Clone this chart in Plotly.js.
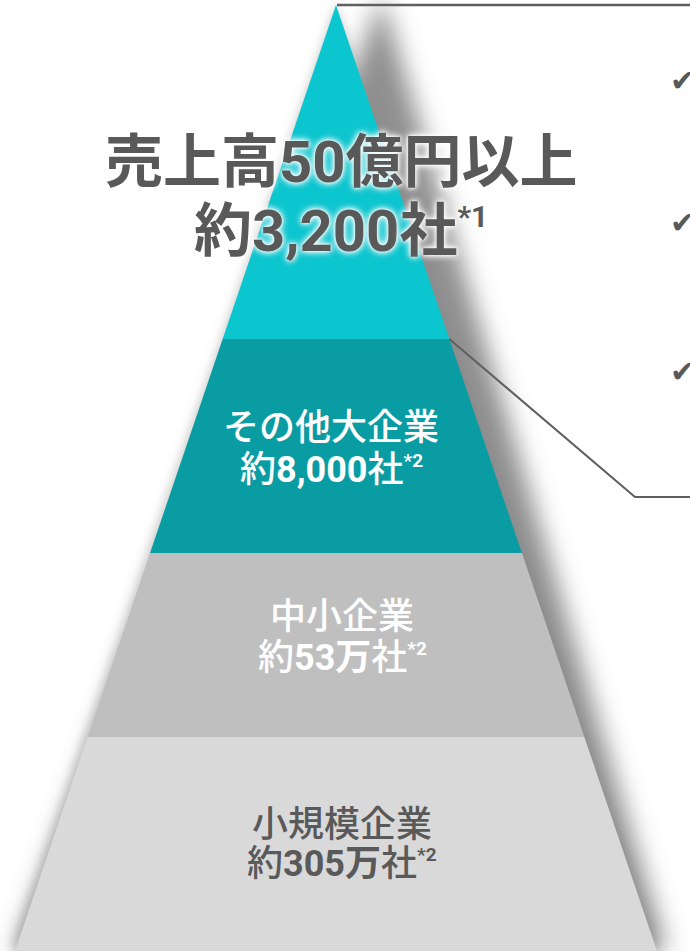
<!DOCTYPE html>
<html>
<head>
<meta charset="utf-8">
<script src="https://cdn.plot.ly/plotly-3.0.1.min.js"></script>
<style>
  html, body { margin: 0; padding: 0; background: #ffffff; }
  #chart { width: 690px; height: 951px; }
</style>
</head>
<body>
<div id="chart"></div>
<script>
// ---- data ----
const layerNames  = ["売上高50億円以上", "その他大企業", "中小企業", "小規模企業"];
const layerPrefix = ["約", "約", "約", "約"];
const layerCounts = ["3,200", "8,000", "53万", "305万"];
const layerSuffix = ["社", "社", "社", "社"];
const layerNotes  = ["*1", "*2", "*2", "*2"];

// ---- styles / geometry (layout, not data) ----
const layerColors = ["#0BC5CF", "#0A9CA3", "#BFBFBF", "#D9D9D9"];
const textColors  = ["#595959", "#FFFFFF", "#FFFFFF", "#595959"];
const apex = {x: 336, y: 5};
const baseY = 951, baseHalf = 321;
const bounds = [5, 339, 553, 737, 951];
const line1Y = [162, 428, 617, 825];
const line2Y = [231, 470, 658, 864];
const labelX = [341, 331, 342, 342];
const fontSizes = [58, 36, 36, 36];
const supSizes = [30, 19, 19, 19];
const checkY = [80, 222, 371];
const FAM = "Roboto, 'Noto Sans CJK JP', 'Noto Sans', sans-serif";

function half(y) { return baseHalf * (y - apex.y) / (baseY - apex.y); }

const traces = [];
// shadow (skewed to the right)
traces.push({
  x: [382, 667, 15, 382], y: [-4, 951, 951, -4],
  mode: "none", fill: "toself", fillcolor: "rgba(115,115,115,0.8)",
  hoverinfo: "skip", showlegend: false
});
// faint halo
traces.push({
  x: [apex.x, apex.x + baseHalf + 4, apex.x - baseHalf - 5, apex.x],
  y: [apex.y - 3, baseY, baseY, apex.y - 3],
  mode: "none", fill: "toself", fillcolor: "rgba(130,130,130,0.35)",
  hoverinfo: "skip", showlegend: false
});
// pyramid layers
for (let i = 0; i < layerNames.length; i++) {
  const y0 = bounds[i], y1 = bounds[i + 1];
  const h0 = half(y0), h1 = half(y1);
  traces.push({
    x: [apex.x - h0, apex.x + h0, apex.x + h1, apex.x - h1, apex.x - h0],
    y: [y0, y0, y1, y1, y0],
    mode: "lines", line: {width: 0, color: layerColors[i]},
    fill: "toself", fillcolor: layerColors[i],
    hoverinfo: "skip", showlegend: false
  });
}
// connector lines
traces.push({
  x: [apex.x + 1, 690], y: [apex.y, apex.y],
  mode: "lines", line: {color: "#5F5F5F", width: 2.5}, hoverinfo: "skip", showlegend: false
});
traces.push({
  x: [apex.x + half(bounds[1]), 635, 690], y: [bounds[1], 497, 497],
  mode: "lines", line: {color: "#5F5F5F", width: 2}, hoverinfo: "skip", showlegend: false
});

const annotations = [];
for (let i = 0; i < layerNames.length; i++) {
  const top = i === 0;
  const fnt = {
    family: FAM, size: fontSizes[i], color: textColors[i],
    weight: top ? 700 : 500
  };
  if (top) fnt.shadow = "0 0 3px #ffffff, 0 0 6px #ffffff, 0 0 8px rgba(255,255,255,0.9)";
  annotations.push({
    x: labelX[i], y: line1Y[i], xref: "x", yref: "y",
    text: layerNames[i], showarrow: false,
    xanchor: "center", yanchor: "middle", font: fnt
  });
  const fnt2 = Object.assign({}, fnt);
  annotations.push({
    x: labelX[i], y: line2Y[i], xref: "x", yref: "y",
    text: layerPrefix[i] + "<b>" + layerCounts[i] + "</b>" + layerSuffix[i] +
          "<sup><b><span style=\"font-size:" + supSizes[i] + "px\">" + layerNotes[i] + "</span></b></sup>",
    showarrow: false, xanchor: "center", yanchor: "middle", font: fnt2
  });
}
for (const cy of checkY) {
  annotations.push({
    x: 668, y: cy, xref: "x", yref: "y", text: "✔", showarrow: false,
    xanchor: "left", yanchor: "middle",
    font: {family: "'DejaVu Sans', sans-serif", size: 30, color: "#595959"}
  });
}

const layout = {
  width: 690, height: 951,
  margin: {l: 0, r: 0, t: 0, b: 0, pad: 0},
  paper_bgcolor: "#ffffff", plot_bgcolor: "#ffffff",
  xaxis: {range: [0, 690], visible: false, fixedrange: true},
  yaxis: {range: [951, 0], visible: false, fixedrange: true},
  showlegend: false,
  annotations: annotations
};

Plotly.newPlot("chart", traces, layout, {staticPlot: true, displayModeBar: false}).then(function (gd) {
  const NS = "http://www.w3.org/2000/svg";
  const svg = gd.querySelector("svg.main-svg");
  let defs = svg.querySelector("defs");
  if (!defs) { defs = document.createElementNS(NS, "defs"); svg.insertBefore(defs, svg.firstChild); }
  function mk(id, sd) {
    const f = document.createElementNS(NS, "filter");
    f.setAttribute("id", id);
    f.setAttribute("x", "-20%"); f.setAttribute("y", "-20%");
    f.setAttribute("width", "140%"); f.setAttribute("height", "140%");
    const b = document.createElementNS(NS, "feGaussianBlur");
    b.setAttribute("stdDeviation", sd);
    f.appendChild(b);
    defs.appendChild(f);
  }
  mk("shblur", 12);
  mk("haloblur", 5);
  const tr = gd.querySelectorAll(".scatterlayer .trace");
  if (tr[0]) tr[0].setAttribute("filter", "url(#shblur)");
  if (tr[1]) tr[1].setAttribute("filter", "url(#haloblur)");
});
</script>
</body>
</html>
